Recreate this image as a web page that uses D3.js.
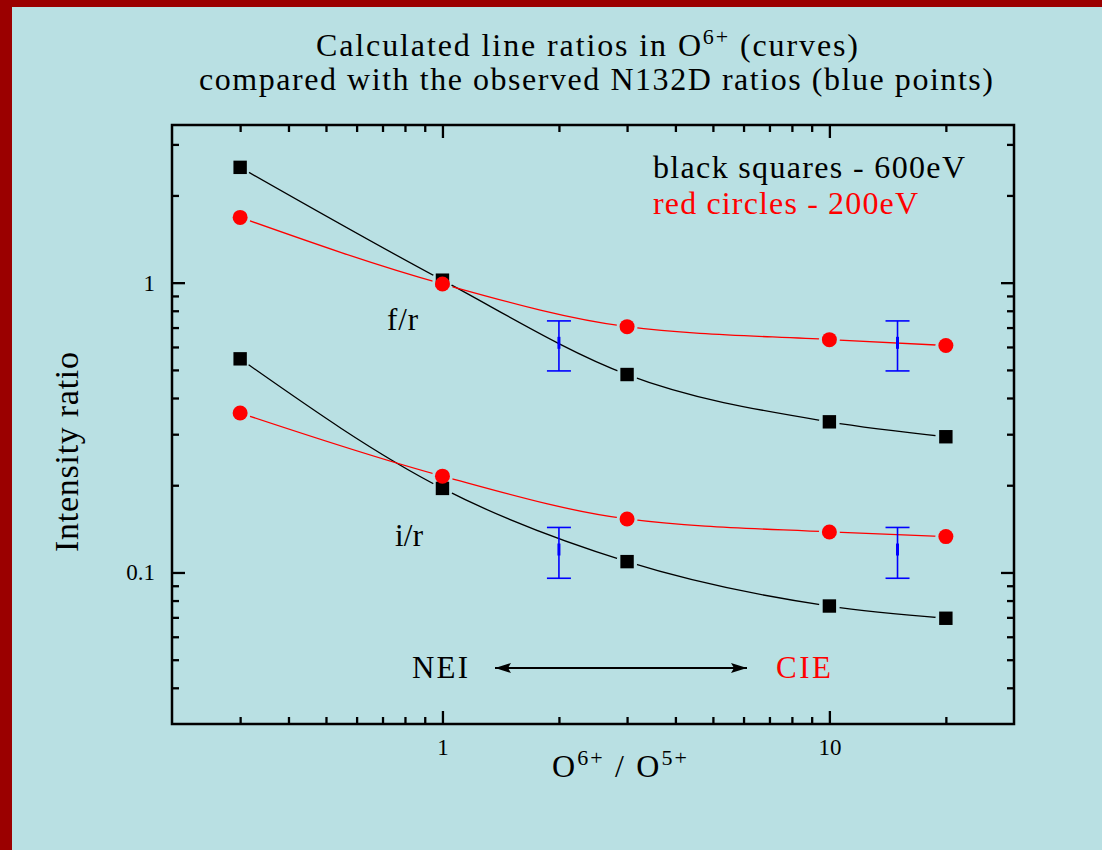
<!DOCTYPE html>
<html>
<head>
<meta charset="utf-8">
<script src="https://cdn.jsdelivr.net/npm/d3@7"></script>
<style>
  body { margin: 0; background: #b9e0e3; }
  text { font-family: "Liberation Serif", "Times New Roman", serif; }
</style>
</head>
<body>
<div class="chart"></div>
<script>
// model ratios, O6+/O5+ on x
const xVals = [0.3, 1, 3, 10, 20]
const blackFr = [2.5, 1.02, 0.482, 0.331, 0.294]
const redFr = [1.68, 0.99, 0.705, 0.636, 0.607]
const blackIr = [0.546, 0.195, 0.109, 0.0766, 0.0695]
const redIr = [0.355, 0.215, 0.153, 0.138, 0.133]

// observed N132D ratios (blue)
const obsX = [2, 15]
const obsFr = [0.62, 0.62]
const obsFrLo = [0.496, 0.496]
const obsFrHi = [0.738, 0.738]
const obsIr = [0.12, 0.12]
const obsIrLo = [0.0955, 0.0955]
const obsIrHi = [0.143, 0.143]

const xMajorTicks = [1, 10]
const xMinorTicks = [0.3, 0.4, 0.5, 0.6, 0.7, 0.8, 0.9, 2, 3, 4, 5, 6, 7, 8, 9, 20]
const yMajorTicks = [0.1, 1]
const yMinorTicks = [0.04, 0.05, 0.06, 0.07, 0.08, 0.09, 0.2, 0.3, 0.4, 0.5, 0.6, 0.7, 0.8, 0.9, 2, 3]

const W = 1102, H = 850
const plot = {left: 172, right: 1014, top: 125, bottom: 724}

const svg = d3.select(".chart")
	.append("svg")
	.attr("width", W)
	.attr("height", H)

svg.append("rect").attr("width", W).attr("height", H).attr("fill", "#b9e0e3")
svg.append("rect").attr("width", W).attr("height", 7).attr("fill", "#9b0000")
svg.append("rect").attr("width", 12).attr("height", H).attr("fill", "#9b0000")

const x = d3.scaleLog().domain([0.2, 30]).range([plot.left, plot.right])
const y = d3.scaleLog().domain([0.03, 3.5]).range([plot.bottom, plot.top])

const defs = svg.append("defs")

// axes, ticks inward on all four sides
function styleAxis(g) {
	g.select(".domain").remove()
	g.selectAll("line").attr("stroke", "#000").attr("stroke-width", 2.3)
	g.selectAll("text").attr("font-family", "Liberation Serif").attr("font-size", 23).attr("fill", "#000")
}

svg.append("g")
	.attr("transform", "translate(0," + plot.bottom + ")")
	.call(d3.axisBottom(x).tickValues(xMinorTicks).tickSize(-7).tickFormat(""))
	.call(styleAxis)
svg.append("g")
	.attr("transform", "translate(0," + plot.bottom + ")")
	.call(d3.axisBottom(x).tickValues(xMajorTicks).tickSize(-13).tickPadding(15).tickFormat(d3.format("d")))
	.call(styleAxis)
svg.append("g")
	.attr("transform", "translate(0," + plot.top + ")")
	.call(d3.axisTop(x).tickValues(xMinorTicks).tickSize(-7).tickFormat(""))
	.call(styleAxis)
svg.append("g")
	.attr("transform", "translate(0," + plot.top + ")")
	.call(d3.axisTop(x).tickValues(xMajorTicks).tickSize(-13).tickFormat(""))
	.call(styleAxis)

svg.append("g")
	.attr("transform", "translate(" + plot.left + ",0)")
	.call(d3.axisLeft(y).tickValues(yMinorTicks).tickSize(-7).tickFormat(""))
	.call(styleAxis)
svg.append("g")
	.attr("transform", "translate(" + plot.left + ",0)")
	.call(d3.axisLeft(y).tickValues(yMajorTicks).tickSize(-13).tickPadding(17).tickFormat(function(d){return d >= 1 ? "1" : "0.1"}))
	.call(styleAxis)
svg.append("g")
	.attr("transform", "translate(" + plot.right + ",0)")
	.call(d3.axisRight(y).tickValues(yMinorTicks).tickSize(-7).tickFormat(""))
	.call(styleAxis)
svg.append("g")
	.attr("transform", "translate(" + plot.right + ",0)")
	.call(d3.axisRight(y).tickValues(yMajorTicks).tickSize(-13).tickFormat(""))
	.call(styleAxis)

svg.append("rect")
	.attr("x", plot.left)
	.attr("y", plot.top)
	.attr("width", plot.right - plot.left)
	.attr("height", plot.bottom - plot.top)
	.attr("fill", "none")
	.attr("stroke", "#000")
	.attr("stroke-width", 2.5)

// curves, broken around their own markers
const series = [
	{id: "bfr", vals: blackFr, color: "#000000", shape: "square"},
	{id: "rfr", vals: redFr, color: "#ff0000", shape: "circle"},
	{id: "bir", vals: blackIr, color: "#000000", shape: "square"},
	{id: "rir", vals: redIr, color: "#ff0000", shape: "circle"}
]

const line = d3.line()
	.x(function(d){return x(d[0])})
	.y(function(d){return y(d[1])})
	.curve(d3.curveMonotoneX)

series.forEach(function(s) {
	const pts = xVals.map(function(v, i){return [v, s.vals[i]]})
	const mask = defs.append("mask").attr("id", "gap-" + s.id)
	mask.append("rect").attr("width", W).attr("height", H).attr("fill", "white")
	mask.selectAll("circle")
		.data(pts)
		.enter()
		.append("circle")
		.attr("cx", function(d){return x(d[0])})
		.attr("cy", function(d){return y(d[1])})
		.attr("r", 10.5)
		.attr("fill", "black")

	svg.append("path")
		.datum(pts)
		.attr("d", line)
		.attr("fill", "none")
		.attr("stroke", s.color)
		.attr("stroke-width", 1.3)
		.attr("mask", "url(#gap-" + s.id + ")")
	s.pts = pts
})

series.forEach(function(s) {
	if (s.shape === "square") {
		svg.selectAll(null)
			.data(s.pts)
			.enter()
			.append("rect")
			.attr("x", function(d){return x(d[0]) - 6.7})
			.attr("y", function(d){return y(d[1]) - 6.7})
			.attr("width", 13.4)
			.attr("height", 13.4)
			.attr("fill", s.color)
	}
})
series.forEach(function(s) {
	if (s.shape === "circle") {
		svg.selectAll(null)
			.data(s.pts)
			.enter()
			.append("circle")
			.attr("cx", function(d){return x(d[0])})
			.attr("cy", function(d){return y(d[1])})
			.attr("r", 7.5)
			.attr("fill", s.color)
	}
})

// observed points with error bars
const obs = obsX.map(function(v, i){return {x: v, y: obsFr[i], lo: obsFrLo[i], hi: obsFrHi[i]}})
	.concat(obsX.map(function(v, i){return {x: v, y: obsIr[i], lo: obsIrLo[i], hi: obsIrHi[i]}}))

const eb = svg.selectAll(".eb")
	.data(obs)
	.enter()
	.append("g")
	.attr("class", "eb")
	.attr("stroke", "#0000ff")
	.attr("stroke-width", 1.6)
eb.append("line")
	.attr("x1", function(d){return x(d.x)})
	.attr("x2", function(d){return x(d.x)})
	.attr("y1", function(d){return y(d.lo)})
	.attr("y2", function(d){return y(d.hi)})
eb.append("line")
	.attr("x1", function(d){return x(d.x) - 12})
	.attr("x2", function(d){return x(d.x) + 12})
	.attr("y1", function(d){return y(d.lo)})
	.attr("y2", function(d){return y(d.lo)})
eb.append("line")
	.attr("x1", function(d){return x(d.x) - 12})
	.attr("x2", function(d){return x(d.x) + 12})
	.attr("y1", function(d){return y(d.hi)})
	.attr("y2", function(d){return y(d.hi)})
eb.append("line")
	.attr("x1", function(d){return x(d.x)})
	.attr("x2", function(d){return x(d.x)})
	.attr("y1", function(d){return y(d.y) - 6})
	.attr("y2", function(d){return y(d.y) + 6})
	.attr("stroke-width", 3)

// Title
const t1 = svg.append("text").attr("x", 316).attr("y", 56).attr("font-size", 32)
	.attr("textLength", 542).attr("lengthAdjust", "spacing")
t1.append("tspan").text("Calculated line ratios in O")
t1.append("tspan").attr("font-size", 22).attr("dy", -12).text("6+")
t1.append("tspan").attr("dy", 12).text(" (curves)")

svg.append("text").attr("x", 199).attr("y", 90).attr("font-size", 32)
	.attr("textLength", 794).attr("lengthAdjust", "spacing")
	.text("compared with the observed N132D ratios (blue points)")

// legend
svg.append("text").attr("x", 653).attr("y", 178).attr("font-size", 32)
	.attr("textLength", 312).attr("lengthAdjust", "spacing")
	.text("black squares - 600eV")
svg.append("text").attr("x", 653).attr("y", 214).attr("font-size", 32).attr("fill", "#ff0000")
	.attr("textLength", 265).attr("lengthAdjust", "spacing")
	.text("red circles - 200eV")

// curve labels
svg.append("text").attr("x", 387).attr("y", 330).attr("font-size", 31)
	.attr("textLength", 31).attr("lengthAdjust", "spacing").text("f/r")
svg.append("text").attr("x", 395).attr("y", 546).attr("font-size", 31)
	.attr("textLength", 28).attr("lengthAdjust", "spacing").text("i/r")

// NEI <-> CIE
defs.append("marker")
	.attr("id", "head")
	.attr("viewBox", "0 0 16 10")
	.attr("refX", 16)
	.attr("refY", 5)
	.attr("markerUnits", "userSpaceOnUse")
	.attr("markerWidth", 16)
	.attr("markerHeight", 10)
	.attr("orient", "auto-start-reverse")
	.append("path")
	.attr("d", "M0,0 L16,5 L0,10 L3,5 Z")
	.attr("fill", "#000")

svg.append("line")
	.attr("x1", 495).attr("x2", 747)
	.attr("y1", 668).attr("y2", 668)
	.attr("stroke", "#000")
	.attr("stroke-width", 2)
	.attr("marker-start", "url(#head)")
	.attr("marker-end", "url(#head)")

svg.append("text").attr("x", 412).attr("y", 678).attr("font-size", 31)
	.attr("textLength", 56).attr("lengthAdjust", "spacing").text("NEI")
svg.append("text").attr("x", 776).attr("y", 678).attr("font-size", 31).attr("fill", "#ff0000")
	.attr("textLength", 55).attr("lengthAdjust", "spacing").text("CIE")

// X Label
const xl = svg.append("text").attr("x", 552).attr("y", 777).attr("font-size", 32)
	.attr("textLength", 135).attr("lengthAdjust", "spacing")
xl.append("tspan").text("O")
xl.append("tspan").attr("font-size", 22).attr("dy", -12).text("6+")
xl.append("tspan").attr("dy", 12).text(" / O")
xl.append("tspan").attr("font-size", 22).attr("dy", -12).text("5+")

// Y Label
svg.append("text")
	.attr("transform", "translate(78,452) rotate(-90)")
	.attr("text-anchor", "middle")
	.attr("font-size", 34)
	.attr("textLength", 200)
	.attr("lengthAdjust", "spacing")
	.text("Intensity ratio")
</script>
</body>
</html>
